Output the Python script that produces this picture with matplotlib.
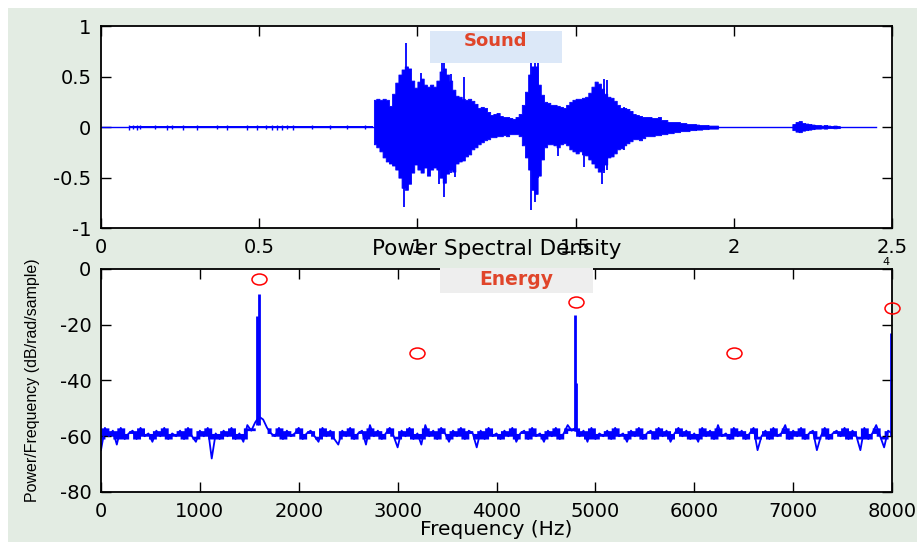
import matplotlib
matplotlib.use('Agg')
import matplotlib.pyplot as plt
from matplotlib.patches import Rectangle
from matplotlib.path import Path
import numpy as np

plt.rcParams['font.family'] = ['DejaVu Sans']
plt.rcParams['axes.unicode_minus'] = False

BLUE = '#0000ff'

# ---- top panel: sound waveform, envelope ----
sound_start, sound_end = 0.0, 2.45
hiss_start, hiss_end, hiss_level = 0.09, 0.86, 0.013
hum_t = [0.09, 0.102, 0.115, 0.123, 0.171, 0.208, 0.223, 0.258, 0.302, 0.366, 0.397,
         0.46, 0.492, 0.523, 0.539, 0.555, 0.571, 0.587, 0.608, 0.666, 0.724, 0.777, 0.834]
hum_amp = [0.025, 0.02, 0.025, 0.02, 0.02, 0.025, 0.02, 0.025, 0.025, 0.02, 0.025,
           0.025, 0.025, 0.02, 0.025, 0.025, 0.025, 0.02, 0.025, 0.02, 0.02, 0.02, 0.02]

burst_t = [0.860, 0.865, 0.875, 0.885, 0.895, 0.905, 0.915, 0.925, 0.935, 0.945,
           0.955, 0.965, 0.975, 0.985, 0.995, 1.005, 1.015, 1.025, 1.035, 1.045,
           1.055, 1.065, 1.075, 1.085, 1.095, 1.105, 1.115, 1.125, 1.135, 1.145,
           1.155, 1.165, 1.175, 1.185, 1.195, 1.205, 1.215, 1.225, 1.235, 1.245,
           1.255, 1.265, 1.275, 1.285, 1.295, 1.305, 1.315, 1.325, 1.335, 1.345,
           1.355, 1.365, 1.375, 1.385, 1.395, 1.405, 1.415, 1.425, 1.435, 1.445,
           1.455, 1.465, 1.475, 1.485, 1.495, 1.505, 1.515, 1.525, 1.535, 1.545,
           1.555, 1.565, 1.575, 1.585, 1.595, 1.605, 1.615, 1.625, 1.635, 1.645,
           1.655, 1.665, 1.675, 1.685, 1.695, 1.705, 1.715, 1.725, 1.735, 1.745,
           1.755, 1.765, 1.775, 1.785, 1.795, 1.805, 1.815, 1.825, 1.835, 1.845,
           1.855, 1.865, 1.875, 1.885, 1.895, 1.905, 1.915, 1.925, 1.935, 1.945,
           1.955]
burst_hi = [0.00, 0.27, 0.28, 0.27, 0.28, 0.27, 0.21, 0.33, 0.44, 0.52,
            0.57, 0.60, 0.58, 0.46, 0.39, 0.45, 0.48, 0.42, 0.40, 0.42,
            0.40, 0.46, 0.55, 0.58, 0.52, 0.46, 0.37, 0.31, 0.30, 0.28,
            0.27, 0.28, 0.26, 0.23, 0.19, 0.20, 0.19, 0.15, 0.12, 0.13,
            0.14, 0.11, 0.10, 0.10, 0.09, 0.08, 0.10, 0.13, 0.22, 0.35,
            0.52, 0.60, 0.60, 0.42, 0.32, 0.25, 0.24, 0.22, 0.22, 0.21,
            0.20, 0.19, 0.22, 0.25, 0.27, 0.28, 0.28, 0.29, 0.30, 0.34,
            0.40, 0.45, 0.43, 0.38, 0.33, 0.30, 0.29, 0.26, 0.22, 0.19,
            0.19, 0.18, 0.16, 0.13, 0.12, 0.11, 0.10, 0.10, 0.10, 0.09,
            0.09, 0.10, 0.07, 0.07, 0.05, 0.05, 0.05, 0.05, 0.04, 0.04,
            0.03, 0.03, 0.03, 0.025, 0.02, 0.02, 0.02, 0.015, 0.015, 0.015,
            0.00]
burst_lo = [0.00, -0.17, -0.20, -0.24, -0.30, -0.34, -0.36, -0.38, -0.42, -0.50,
            -0.60, -0.62, -0.56, -0.45, -0.37, -0.42, -0.45, -0.40, -0.48, -0.42,
            -0.40, -0.42, -0.50, -0.55, -0.46, -0.42, -0.44, -0.36, -0.34, -0.33,
            -0.29, -0.27, -0.22, -0.20, -0.17, -0.15, -0.13, -0.12, -0.10, -0.10,
            -0.09, -0.09, -0.08, -0.09, -0.07, -0.07, -0.07, -0.09, -0.18, -0.30,
            -0.42, -0.62, -0.66, -0.48, -0.32, -0.20, -0.17, -0.17, -0.18, -0.20,
            -0.17, -0.16, -0.18, -0.22, -0.24, -0.26, -0.24, -0.27, -0.28, -0.32,
            -0.36, -0.40, -0.44, -0.42, -0.37, -0.30, -0.29, -0.26, -0.22, -0.21,
            -0.18, -0.16, -0.14, -0.12, -0.12, -0.13, -0.11, -0.09, -0.09, -0.09,
            -0.08, -0.08, -0.07, -0.07, -0.06, -0.06, -0.05, -0.05, -0.04, -0.04,
            -0.04, -0.03, -0.03, -0.025, -0.025, -0.02, -0.02, -0.015, -0.015, -0.015,
            0.00]

spike_t = [0.958, 0.963, 1.010, 1.067, 1.078, 1.085, 1.105, 1.118, 1.147,
           1.360, 1.372, 1.380, 1.445, 1.527, 1.583, 1.590, 1.598, 1.652]
spike_hi = [0.30, 0.83, 0.54, 0.30, 0.72, 0.70, 0.53, 0.35, 0.50,
            0.70, 0.75, 0.70, 0.20, 0.28, 0.35, 0.48, 0.47, 0.20]
spike_lo = [-0.79, -0.50, -0.30, -0.56, -0.30, -0.69, -0.45, -0.49, -0.30,
            -0.82, -0.74, -0.50, -0.29, -0.39, -0.56, -0.45, -0.42, -0.23]

tail_t = [2.18, 2.19, 2.20, 2.21, 2.22, 2.23, 2.24, 2.25, 2.26,
          2.27, 2.28, 2.29, 2.30, 2.31, 2.32, 2.33, 2.34]
tail_hi = [0.0, 0.03, 0.05, 0.06, 0.04, 0.035, 0.03, 0.025, 0.02,
           0.02, 0.015, 0.02, 0.015, 0.01, 0.015, 0.01, 0.0]
tail_lo = [0.0, -0.03, -0.045, -0.05, -0.035, -0.03, -0.025, -0.02, -0.015,
           -0.015, -0.012, -0.015, -0.01, -0.01, -0.012, -0.01, 0.0]

top_xticks = [0, 0.5, 1, 1.5, 2, 2.5]
top_xlabels = ['0', '0.5', '1', '1.5', '2', '2.5']
top_yticks = [-1, -0.5, 0, 0.5, 1]
top_ylabels = ['-1', '-0.5', '0', '0.5', '1']

# ---- bottom panel: power spectral density ----
psd_step = 40  # Hz between readings
psd_db = [-65, -57, -60, -58, -63, -57, -61, -59, -58, -61,
          -57, -60, -59, -62, -58, -60, -57, -61, -59, -60,
          -58, -61, -57, -60, -62, -58, -60, -57, -68, -59,
          -61, -58, -60, -57, -61, -59, -62, -56, -58, -55,
          -53, -54, -57, -59, -60, -57, -61, -58, -60, -59,
          -57, -61, -59, -58, -60, -62, -57, -60, -58, -61,
          -63, -58, -60, -57, -61, -59, -58, -63, -56, -60,
          -58, -61, -59, -57, -60, -64, -58, -60, -57, -61,
          -59, -63, -56, -60, -58, -61, -57, -59, -62, -58,
          -60, -57, -61, -58, -59, -64, -58, -61, -57, -60,
          -59, -61, -58, -60, -57, -62, -59, -58, -61, -57,
          -60, -59, -62, -58, -60, -57, -61, -59, -56, -58,
          -57, -60, -58, -62, -57, -61, -59, -60, -58, -61,
          -57, -60, -59, -62, -58, -60, -57, -61, -59, -58,
          -61, -57, -60, -58, -62, -59, -57, -60, -58, -61,
          -59, -62, -57, -60, -58, -61, -56, -60, -59, -61,
          -57, -60, -58, -61, -59, -57, -65, -60, -58, -61,
          -57, -60, -59, -56, -61, -58, -60, -57, -61, -59,
          -58, -65, -60, -57, -61, -59, -58, -60, -57, -61,
          -58, -60, -65, -57, -61, -59, -56, -60, -64, -58,
          -59]
psd_freq = np.arange(len(psd_db)) * psd_step
floor_lo, floor_hi = -61, -57  # the solid core of the noise band

peak_freq = [1580, 1600, 4790, 4805, 7990]
peak_top = [-17, -9, -16.5, -41, -23]
peak_base = [-56, -56, -58, -58, -60]

energy_freq = [1600, 3200, 4800, 6400, 8000]
energy_db = [-3.5, -30, -12, -30, -14]

# ---- figure ----
fig = plt.figure(figsize=(9.18, 5.42), dpi=100, facecolor='white')
fig.patches.append(Rectangle((0.0087, 0), 0.990, 0.9852, transform=fig.transFigure,
                             facecolor='#e3ece3', edgecolor='none', zorder=-10))

ax1 = fig.add_axes([0.110, 0.579, 0.8617, 0.373])
ax2 = fig.add_axes([0.110, 0.0923, 0.8617, 0.4114])

for ax in (ax1, ax2):
    ax.tick_params(direction='in', top=True, right=True, length=7, width=1,
                   labelsize=14, pad=7)
    for s in ax.spines.values():
        s.set_linewidth(1.3)

# sound
ax1.plot([sound_start, sound_end], [0, 0], color=BLUE, lw=1)
ax1.fill_between([hiss_start, hiss_end], -hiss_level, hiss_level, color=BLUE, lw=0)
ax1.vlines(hum_t, [-a for a in hum_amp], hum_amp, color=BLUE, lw=1)
body = ax1.fill_between(burst_t, burst_lo, burst_hi, step='mid', color=BLUE, lw=0.6)
body.set_snap(False)
ax1.vlines(spike_t, spike_lo, spike_hi, color=BLUE, lw=1.3)
tail = ax1.fill_between(tail_t, tail_lo, tail_hi, step='mid', color=BLUE, lw=0.6)
tail.set_snap(False)
ax1.set_xlim(0, 2.5)
ax1.set_ylim(-1, 1)
ax1.set_xticks(top_xticks)
ax1.set_xticklabels(top_xlabels)
ax1.set_yticks(top_yticks)
ax1.set_yticklabels(top_ylabels)

# psd
psd = np.array(psd_db, dtype=float)
seg_lo = np.maximum(np.minimum(psd[:-1], psd[1:]), floor_lo)
seg_hi = np.minimum(np.maximum(psd[:-1], psd[1:]), floor_hi)
band = ax2.fill_between(psd_freq[:-1], seg_lo, np.maximum(seg_hi, seg_lo), step='post',
                        color=BLUE, lw=0)
band.set_snap(False)
ax2.plot(psd_freq, psd_db, color=BLUE, lw=1.3)
ax2.vlines(peak_freq, peak_base, peak_top, color=BLUE, lw=2)
ring = Path(Path.unit_circle().vertices * [1, 0.73], Path.unit_circle().codes)
ax2.plot(energy_freq, energy_db, linestyle='none', marker=ring, ms=10.8,
         mfc='none', mec='red', mew=1.1, clip_on=False, zorder=5)
ax2.set_xlim(0, 8000)
ax2.set_ylim(-80, 0)
ax2.set_xticks(range(0, 8001, 1000))
ax2.set_yticks(range(-80, 1, 20))
ax2.set_title('Power Spectral Density', fontsize=15.5, pad=10)
ax2.set_xlabel('Frequency (Hz)', fontsize=14.5, va='top')
ax2.xaxis.set_label_coords(0.5, -0.125)
ax2.set_ylabel('Power/Frequency (dB/rad/sample)', fontsize=11.5,
               family=['Liberation Sans', 'DejaVu Sans'])
ax2.yaxis.set_label_coords(-0.077, 0.5)

# label boxes
fig.patches.append(Rectangle((0.4684, 0.8838), 0.1438, 0.059, transform=fig.transFigure,
                             facecolor='#dce8f8', edgecolor='none', zorder=3))
fig.text(0.5403, 0.9244, 'Sound', color='#e0452a', fontsize=13, fontweight='bold',
         ha='center', va='center', zorder=4)
fig.patches.append(Rectangle((0.4793, 0.4594), 0.1667, 0.0461, transform=fig.transFigure,
                             facecolor='#eeeeee', edgecolor='none', zorder=3))
fig.text(0.562, 0.4852, 'Energy', color='#e0452a', fontsize=13.5, fontweight='bold',
         ha='center', va='center', zorder=4)
fig.text(890 / 918, 1 - 267 / 542, '4', fontsize=8, ha='right', va='bottom')

fig.savefig('out.png', dpi=100, facecolor=fig.get_facecolor())
